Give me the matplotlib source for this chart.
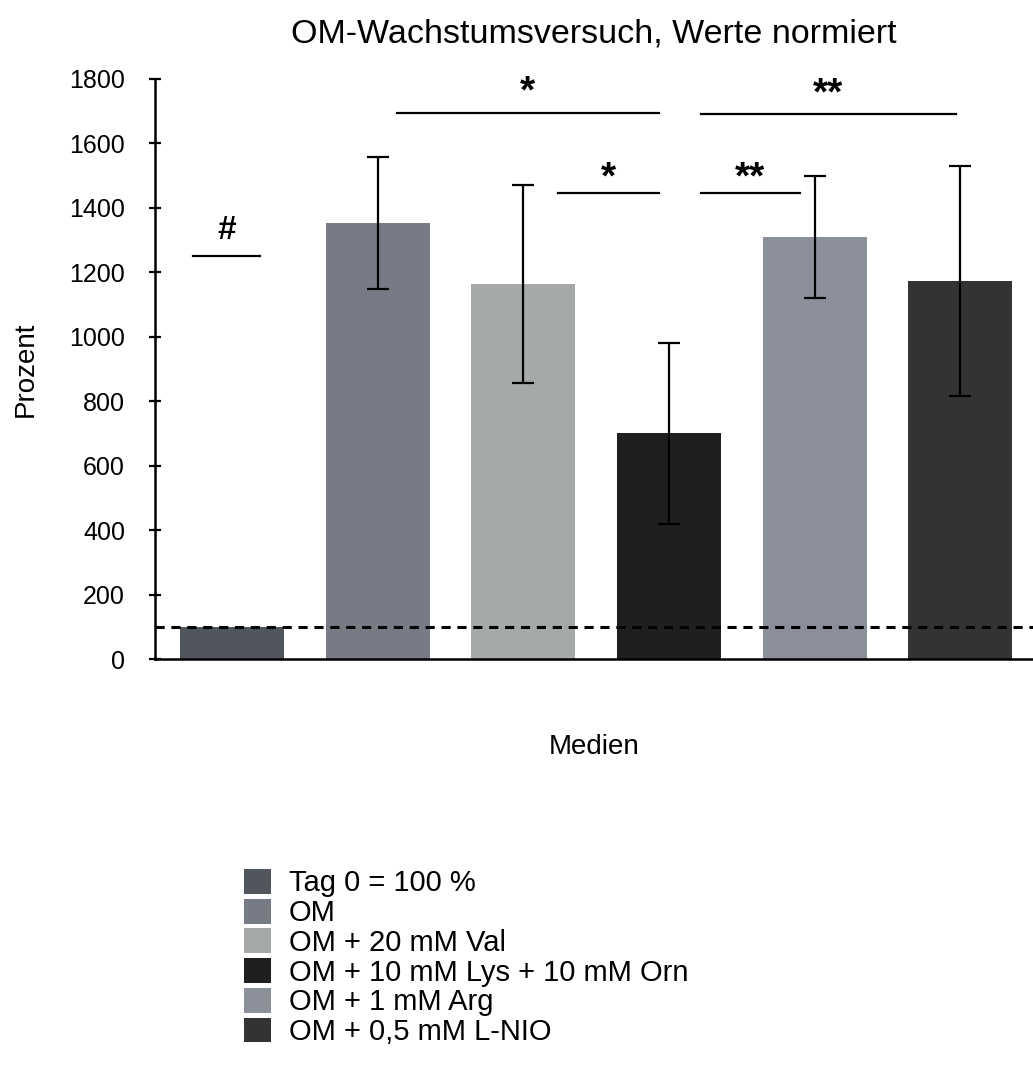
import matplotlib
matplotlib.use("Agg")
import matplotlib.pyplot as plt
import numpy as np

plt.rcParams["font.family"] = ["Liberation Sans", "DejaVu Sans"]

# Groups, normalised growth (%) and standard deviations
labels = ["Tag 0 = 100 %", "OM", "OM + 20 mM Val", "OM + 10 mM Lys + 10 mM Orn",
          "OM + 1 mM Arg", "OM + 0,5 mM L-NIO"]
values = [100, 1353, 1163, 700, 1310, 1174]
errors = [0, 205, 308, 281, 190, 357]
colors = ["#51555c", "#767b86", "#a5a9aa", "#1e1f21", "#8a8f99", "#333333"]

# Significance brackets: (x start, x end, height, marker)
brackets = [(-0.27, 0.19, 1250, "#"),
            (1.13, 2.93, 1695, "*"),
            (2.24, 2.93, 1445, "*"),
            (3.22, 3.90, 1445, "**"),
            (3.22, 4.97, 1690, "**")]
baseline = 100

fig = plt.figure(figsize=(10.33, 10.66), dpi=100)
ax = fig.add_axes([0.150, 0.3818, 0.850, 0.5441])

x = np.arange(len(values))
bars = ax.bar(x, values, width=0.714, color=colors, zorder=2)
ax.errorbar(x[1:], values[1:], yerr=errors[1:], fmt="none", ecolor="black",
            elinewidth=1.6, capsize=8, capthick=1.6, zorder=3)

ax.axhline(baseline, color="black", linestyle=(0, (3, 2.2)), linewidth=2.2, zorder=4)

# marker text sits a few pixels above each bracket line
text_gap = {"#": 17, "*": 5, "**": 5}
for x0, x1, h, mark in brackets:
    ax.plot([x0, x1], [h, h], color="black", linewidth=1.6, zorder=3)
    gap = text_gap[mark] + (5 if h > 1600 and mark != "#" else 0)
    ax.annotate(mark, xy=((x0 + x1) / 2, h), xytext=(0, gap),
                textcoords="offset pixels", ha="center", va="baseline",
                fontsize=24 if mark == "#" else 28, fontweight="bold")

ax.set_xlim(-0.53, 5.50)
ax.set_ylim(0, 1800)
ax.set_yticks(np.arange(0, 1801, 200))
ax.set_xticks([])
ax.tick_params(axis="y", direction="inout", length=9, width=1.6, labelsize=18, pad=17)
for side in ("top", "right"):
    ax.spines[side].set_visible(False)
for side in ("left", "bottom"):
    ax.spines[side].set_linewidth(1.8)

ax.set_ylabel("Prozent", fontsize=20, labelpad=22)
ax.set_xlabel("Medien", fontsize=20, labelpad=54)
ax.set_title("OM-Wachstumsversuch, Werte normiert", fontsize=24.5, pad=26)

fig.legend(bars, labels, loc="upper left", bbox_to_anchor=(0.2218, 0.1985),
           frameon=False, fontsize=21, handlelength=0.93, handleheight=0.93,
           handletextpad=0.62, labelspacing=0.045, borderpad=0)

fig.savefig("out.png", dpi=100)
